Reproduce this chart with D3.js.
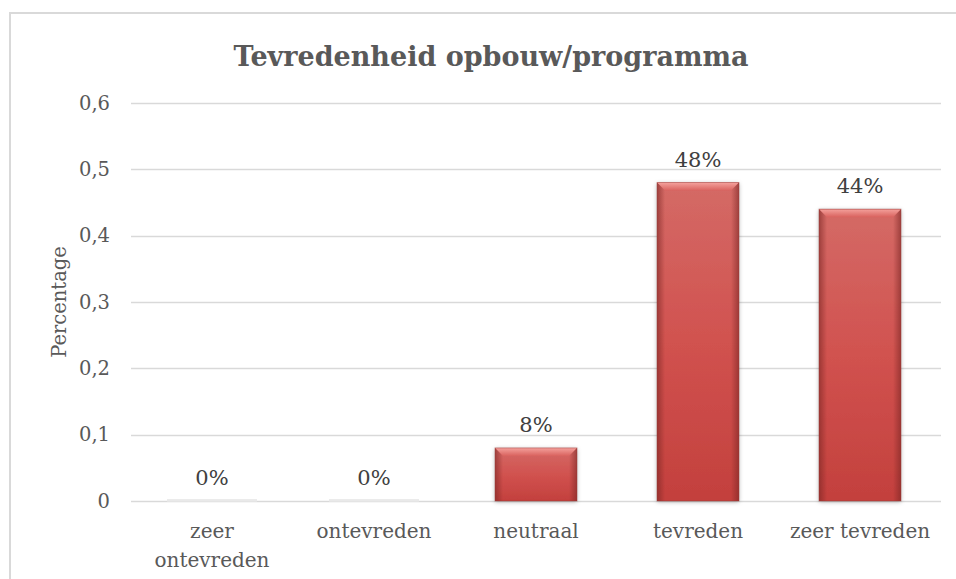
<!DOCTYPE html>
<html>
<head>
<meta charset="utf-8">
<script src="https://cdn.jsdelivr.net/npm/d3@7"></script>
<style>
  html, body { margin: 0; padding: 0; background: #fff; }
  svg { display: block; }
</style>
</head>
<body>
<svg id="chart" width="956" height="579"></svg>
<script>
// chart data
var categories = ["zeer ontevreden", "ontevreden", "neutraal", "tevreden", "zeer tevreden"];
var values = [0, 0, 0.08, 0.48, 0.44];
var valueLabels = ["0%", "0%", "8%", "48%", "44%"];
var yTicks = [0, 0.1, 0.2, 0.3, 0.4, 0.5, 0.6];
var yTickLabels = ["0", "0,1", "0,2", "0,3", "0,4", "0,5", "0,6"];

var W = 956, H = 579;
var plot = {left: 131, right: 941, top: 103, bottom: 501};
var FONT = "'DejaVu Serif', 'Liberation Serif', serif";
var TXT = "#595959";

var svg = d3.select("#chart");

// defs: gradients + shadow
var defs = svg.append("defs");

var g_body = defs.append("linearGradient").attr("id", "barBody")
    .attr("x1", 0).attr("y1", 0).attr("x2", 0).attr("y2", 1);
g_body.append("stop").attr("offset", "0%").attr("stop-color", "#d46a66");
g_body.append("stop").attr("offset", "50%").attr("stop-color", "#d1524f");
g_body.append("stop").attr("offset", "100%").attr("stop-color", "#c3403d");

var g_side = defs.append("linearGradient").attr("id", "barSide")
    .attr("x1", 0).attr("y1", 0).attr("x2", 1).attr("y2", 0);
g_side.append("stop").attr("offset", "0%").attr("stop-color", "#7a2624").attr("stop-opacity", 0.6);
g_side.append("stop").attr("offset", "100%").attr("stop-color", "#7a2624").attr("stop-opacity", 0);

var g_sideR = defs.append("linearGradient").attr("id", "barSideR")
    .attr("x1", 1).attr("y1", 0).attr("x2", 0).attr("y2", 0);
g_sideR.append("stop").attr("offset", "0%").attr("stop-color", "#7a2624").attr("stop-opacity", 0.6);
g_sideR.append("stop").attr("offset", "100%").attr("stop-color", "#7a2624").attr("stop-opacity", 0);

var g_top = defs.append("linearGradient").attr("id", "barTop")
    .attr("x1", 0).attr("y1", 0).attr("x2", 0).attr("y2", 1);
g_top.append("stop").attr("offset", "0%").attr("stop-color", "#f4a19c");
g_top.append("stop").attr("offset", "100%").attr("stop-color", "#d9625e");

var shadow = defs.append("filter").attr("id", "shadow")
    .attr("x", "-20%").attr("y", "-20%").attr("width", "140%").attr("height", "140%");
shadow.append("feDropShadow").attr("dx", 0).attr("dy", 1).attr("stdDeviation", 2)
    .attr("flood-color", "#000").attr("flood-opacity", 0.3);

// outer frame
svg.append("path")
    .attr("d", "M10," + (H + 5) + " L10,13 L" + (W + 5) + ",13")
    .attr("fill", "none").attr("stroke", "#d9d9d9").attr("stroke-width", 2);

// scales
var x = d3.scaleBand().domain(categories).range([plot.left, plot.right]).paddingInner(0.494).paddingOuter(0.247);
var y = d3.scaleLinear().domain([0, 0.6]).range([plot.bottom, plot.top]);

// gridlines
svg.append("g").selectAll("line").data(yTicks).join("line")
    .attr("x1", plot.left).attr("x2", plot.right)
    .attr("y1", function(d){ return Math.round(y(d)) + 0.5; })
    .attr("y2", function(d){ return Math.round(y(d)) + 0.5; })
    .attr("stroke", "#d9d9d9").attr("stroke-width", 1.5);

// y axis labels
var yAxis = d3.axisLeft(y).tickValues(yTicks).tickSize(0).tickPadding(0)
    .tickFormat(function(d, i){ return yTickLabels[i]; });
var yG = svg.append("g").attr("transform", "translate(110,0)").call(yAxis);
yG.select(".domain").remove();
yG.selectAll("text").attr("font-family", FONT).attr("font-size", 19.5).attr("fill", TXT);

// axis title
svg.append("text")
    .attr("transform", "translate(66," + ((plot.top + plot.bottom) / 2) + ") rotate(-90)")
    .attr("text-anchor", "middle")
    .attr("font-family", FONT).attr("font-size", 19.5).attr("fill", TXT)
    .text("Percentage");

// title
svg.append("text")
    .attr("x", 491).attr("y", 66)
    .attr("text-anchor", "middle")
    .attr("font-family", FONT).attr("font-size", 27).attr("font-weight", "bold").attr("fill", TXT)
    .text("Tevredenheid opbouw/programma");

// bars
var bars = svg.append("g").selectAll("g").data(values).join("g")
    .attr("transform", function(d, i){ return "translate(" + x(categories[i]) + "," + y(d) + ")"; });

var bw = x.bandwidth();

bars.each(function(d){
    var g = d3.select(this);
    var h = y(0) - y(d);
    if (h <= 0.5) {
        // zero value: faint shadow only
        g.append("rect").attr("x", -4).attr("y", -2).attr("width", bw + 8).attr("height", 3)
            .attr("fill", "#e6e6e6").attr("opacity", 0.8);
        return;
    }
    g.append("rect").attr("width", bw).attr("height", h)
        .attr("fill", "url(#barBody)").attr("filter", "url(#shadow)");
    var bev = Math.min(8, h / 2);
    // top bevel
    g.append("path")
        .attr("d", "M0,0 L" + bw + ",0 L" + (bw - bev) + "," + bev + " L" + bev + "," + bev + " Z")
        .attr("fill", "url(#barTop)");
    // sides
    g.append("path")
        .attr("d", "M0,0 L" + bev + "," + bev + " L" + bev + "," + h + " L0," + h + " Z")
        .attr("fill", "url(#barSide)");
    g.append("path")
        .attr("d", "M" + bw + ",0 L" + (bw - bev) + "," + bev + " L" + (bw - bev) + "," + h + " L" + bw + "," + h + " Z")
        .attr("fill", "url(#barSideR)");
    g.append("rect").attr("width", bw).attr("height", h)
        .attr("fill", "none").attr("stroke", "#9c3a37").attr("stroke-width", 0.8).attr("stroke-opacity", 0.6);
});

// value labels
svg.append("g").selectAll("text").data(values).join("text")
    .attr("x", function(d, i){ return x(categories[i]) + bw / 2; })
    .attr("y", function(d){ return y(d) - 16; })
    .attr("text-anchor", "middle")
    .attr("font-family", FONT).attr("font-size", 21).attr("fill", "#404040")
    .text(function(d, i){ return valueLabels[i]; });

// category labels
var catLines = [["zeer", "ontevreden"], ["ontevreden"], ["neutraal"], ["tevreden"], ["zeer tevreden"]];
var xl = svg.append("g").selectAll("text").data(categories).join("text")
    .attr("x", function(d){ return x(d) + bw / 2; })
    .attr("y", 538)
    .attr("text-anchor", "middle")
    .attr("font-family", FONT).attr("font-size", 20).attr("fill", TXT);
xl.each(function(d, i){
    var t = d3.select(this);
    catLines[i].forEach(function(line, j){
        t.append("tspan").attr("x", x(d) + bw / 2).attr("dy", j === 0 ? 0 : 29).text(line);
    });
});
</script>
</body>
</html>
